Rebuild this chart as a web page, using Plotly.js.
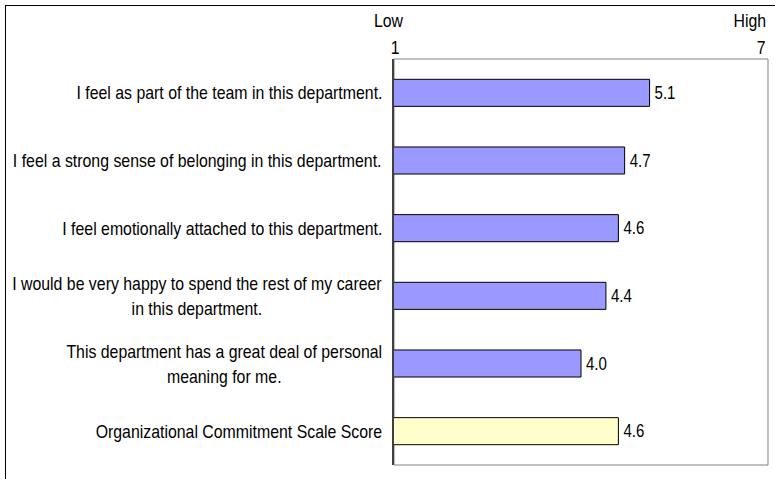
<!DOCTYPE html>
<html>
<head>
<meta charset="utf-8">
<script src="https://cdn.plot.ly/plotly-3.0.1.min.js"></script>
<style>
  html, body { margin: 0; padding: 0; background: #fff; }
  #wrap { position: relative; width: 775px; height: 479px; overflow: hidden; }
  #chart { width: 775px; height: 479px; }
  #frame { position: absolute; left: 5px; top: 5px; width: 800px; height: 500px;
           border-top: 1.5px solid #000; border-left: 1.5px solid #000; pointer-events: none; }
</style>
</head>
<body>
<div id="wrap">
  <div id="chart"></div>
  <div id="frame"></div>
</div>
<script>
const categories = [
  "I feel as part of the team in this department.",
  "I feel a strong sense of belonging in this department.",
  "I feel emotionally attached to this department.",
  "I would be very happy to spend the rest of my career<br>in this department.",
  "This department has a great deal of personal<br>meaning for me.",
  "Organizational Commitment Scale Score"
];
const values = [5.1, 4.7, 4.6, 4.4, 4.0, 4.6];
const barColors = ["#9999FF", "#9999FF", "#9999FF", "#9999FF", "#9999FF", "#FFFFCC"];
const scaleTicks = [1, 7];
const scaleEnds = ["Low", "High"];

const FONT = "'Liberation Sans', Arial, sans-serif";
const NARROW = 0.835;

const trace = {
  type: "bar",
  orientation: "h",
  y: categories,
  x: values,
  base: 0,
  marker: { color: barColors, line: { color: "#000", width: 1 } },
  width: 0.4,
  text: values.map(v => v.toFixed(1)),
  textposition: "outside",
  textfont: { family: FONT, size: 18, color: "#000" },
  cliponaxis: false,
  hoverinfo: "none"
};

const annotations = categories.map(c => ({
  xref: "paper", yref: "y", x: 0, y: c,
  xanchor: "right", yanchor: "middle", xshift: -10,
  align: "center", showarrow: false, text: c,
  font: { family: FONT, size: 19, color: "#000" }
}));
// scale end words and numbers above the plot
annotations.push({
  xref: "x", yref: "paper", x: scaleTicks[0], y: 1, yshift: 39, xshift: -6,
  xanchor: "center", yanchor: "middle", showarrow: false, text: scaleEnds[0],
  font: { family: FONT, size: 19, color: "#000" }
});
annotations.push({
  xref: "x", yref: "paper", x: scaleTicks[1], y: 1, yshift: 39,
  xanchor: "right", yanchor: "middle", showarrow: false, text: scaleEnds[1],
  font: { family: FONT, size: 19, color: "#000" }
});
annotations.push({
  xref: "x", yref: "paper", x: scaleTicks[0], y: 1, yshift: 12, xshift: 1,
  xanchor: "center", yanchor: "middle", showarrow: false, text: String(scaleTicks[0]),
  font: { family: FONT, size: 19, color: "#000" }
});
annotations.push({
  xref: "x", yref: "paper", x: scaleTicks[1], y: 1, yshift: 12,
  xanchor: "right", yanchor: "middle", showarrow: false, text: String(scaleTicks[1]),
  font: { family: FONT, size: 19, color: "#000" }
});

const layout = {
  width: 775, height: 479,
  margin: { l: 394, r: 7, t: 59, b: 14 },
  paper_bgcolor: "#fff", plot_bgcolor: "#fff",
  showlegend: false,
  xaxis: {
    side: "top", range: [1, 7], tickvals: scaleTicks,
    showticklabels: false,
    ticks: "", showgrid: false, zeroline: false, showline: false,
    fixedrange: true
  },
  yaxis: {
    type: "category", autorange: "reversed",
    showticklabels: false, ticks: "", showgrid: false, zeroline: false,
    showline: true, linecolor: "#404040", linewidth: 2,
    fixedrange: true
  },
  shapes: [{
    type: "rect", xref: "paper", yref: "paper", x0: 0, x1: 1, y0: 0, y1: 1,
    line: { color: "#808080", width: 1 }, layer: "below"
  }],
  annotations: annotations
};

// Horizontally condense text (the original uses a narrow face) keeping an anchor edge fixed.
function condense(el, anchor, dx) {
  const b = el.getBBox();
  const ax = anchor === "right" ? b.x + b.width : anchor === "left" ? b.x : b.x + b.width / 2;
  const prev = el.getAttribute("transform") || "";
  el.setAttribute("transform", prev + " translate(" + (ax + (dx || 0)) + ",0) scale(" + NARROW + ",1) translate(" + (-ax) + ",0)");
}

Plotly.newPlot("chart", [trace], layout, { displayModeBar: false, staticPlot: true }).then(gd => {
  gd.querySelectorAll("g.annotation").forEach(g => {
    const idx = +g.getAttribute("data-index");
    const a = layout.annotations[idx];
    const t = g.querySelector("text.annotation-text");
    if (t) condense(t, a.xanchor, 0);
  });
  gd.querySelectorAll("text.bartext").forEach(t => condense(t, "left", 2));
});
</script>
</body>
</html>
